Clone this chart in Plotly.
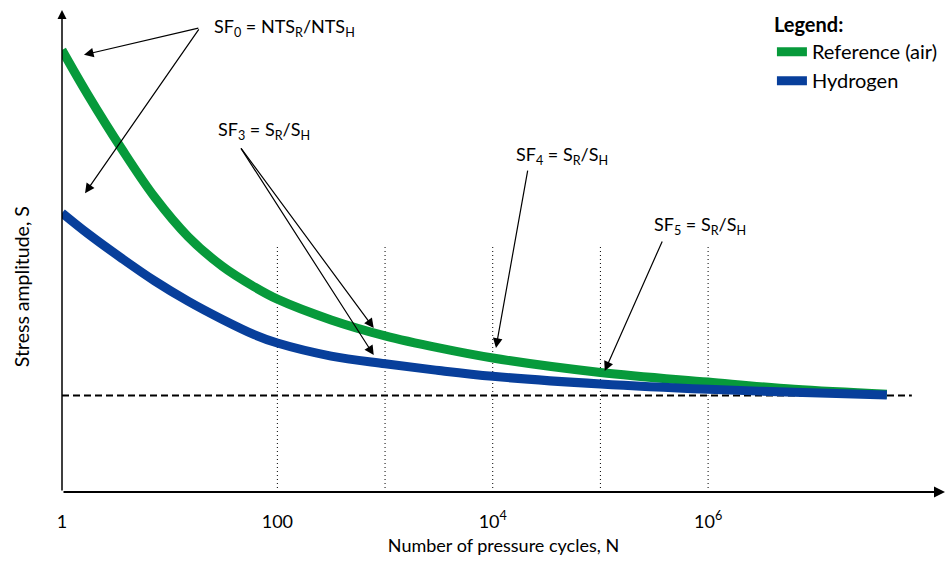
import math
import plotly.graph_objects as go

# S-N curves: number of pressure cycles vs stress amplitude (arbitrary units)
n_cycles = [1, 1.74, 3.63, 7.24, 14.8, 30.9, 61.7, 100, 316, 1000, 3162,
            1e4, 1e5, 1e6, 6.31e6, 4.57e7]
s_reference = [91.7, 82.4, 71.0, 61.2, 53.0, 46.8, 42.5, 40.0, 35.7, 32.4,
               29.9, 27.8, 24.8, 22.8, 21.3, 20.3]
s_hydrogen = [57.9, 53.6, 48.4, 43.8, 39.6, 35.8, 32.6, 30.9, 28.2, 26.6,
              25.2, 24.0, 22.4, 21.3, 20.7, 20.1]

endurance_level = 20.0
endurance_span = [1, 7.8e7]

grid_cycles = [1e2, 1e3, 1e4, 1e5, 1e6]
grid_top = 51.2

tick_values = [1, 1e2, 1e4, 1e6]
tick_labels = ["1", "100", "10<sup>4</sup>", "10<sup>6</sup>"]

GREEN = "#079a3b"
BLUE = "#083f9b"
FONT = "Lato"
TEXT_SIZE = 18

fig = go.Figure()

# dotted decade markers
for n in grid_cycles:
    fig.add_trace(go.Scatter(
        x=[n, n], y=[0, grid_top], mode="lines",
        line=dict(color="black", width=1, dash="1px,3px"),
        showlegend=False, hoverinfo="skip"))

# dashed endurance limit
fig.add_trace(go.Scatter(
    x=endurance_span, y=[endurance_level, endurance_level], mode="lines",
    line=dict(color="black", width=2, dash="7px,4px"),
    showlegend=False, hoverinfo="skip"))

fig.add_trace(go.Scatter(
    x=n_cycles, y=s_reference, mode="lines", name="Reference (air)",
    line=dict(color=GREEN, width=9, shape="spline", smoothing=1.0),
    cliponaxis=False))
fig.add_trace(go.Scatter(
    x=n_cycles, y=s_hydrogen, mode="lines", name="Hydrogen",
    line=dict(color=BLUE, width=9, shape="spline", smoothing=1.0),
    cliponaxis=False))

X_MAX_LOG = 8.2
Y_MAX = 100

annotations = []


def arrow(x_tip, y_tip, x_tail, y_tail, head=2, size=1.6, width=1.2):
    annotations.append(dict(
        x=math.log10(x_tip), y=y_tip, ax=math.log10(x_tail), ay=y_tail,
        xref="x", yref="y", axref="x", ayref="y",
        showarrow=True, arrowhead=head, arrowsize=size, arrowwidth=width,
        arrowcolor="black", standoff=0, startstandoff=0, text=""))


def label(x, y, text):
    annotations.append(dict(
        x=math.log10(x), y=y, xref="x", yref="y", text=text,
        showarrow=False, xanchor="left", yanchor="middle",
        font=dict(family=FONT, size=TEXT_SIZE, color="black")))


# axes drawn as arrows
arrow(10 ** X_MAX_LOG, 0, 1, 0, head=2, size=1.0, width=2.2)
arrow(1, Y_MAX, 1, 0, head=2, size=1.2, width=1.5)

# safety-factor callouts
sf0_tail = (10 ** 1.28, 96.3)
arrow(10 ** 0.204, 90.7, *sf0_tail)
arrow(10 ** 0.214, 62.0, *sf0_tail)
label(10 ** 1.393, 96.3, "SF<sub>0</sub> = NTS<sub>R</sub>/NTS<sub>H</sub>")

sf3_tail = (10 ** 1.653, 71.6)
arrow(10 ** 2.895, 34.0, *sf3_tail)
arrow(10 ** 2.895, 28.4, *sf3_tail)
label(10 ** 1.43, 75.1, "SF<sub>3</sub> = S<sub>R</sub>/S<sub>H</sub>")

arrow(10 ** 4.03, 29.9, 10 ** 4.327, 67.0)
label(10 ** 4.197, 69.9, "SF<sub>4</sub> = S<sub>R</sub>/S<sub>H</sub>")

arrow(10 ** 5.04, 25.1, 10 ** 5.58, 52.3)
label(10 ** 5.478, 55.2, "SF<sub>5</sub> = S<sub>R</sub>/S<sub>H</sub>")

# y-axis title
annotations.append(dict(
    x=-0.0465, y=42.7, xref="paper", yref="y", text="Stress amplitude, S",
    textangle=-90, showarrow=False, xanchor="center", yanchor="middle",
    font=dict(family=FONT, size=19.5, color="black")))

fig.update_layout(
    width=948, height=566,
    margin=dict(l=62, r=3, t=10, b=74),
    paper_bgcolor="white", plot_bgcolor="white",
    font=dict(family=FONT, size=TEXT_SIZE, color="black"),
    xaxis=dict(
        type="log", range=[0, X_MAX_LOG], showgrid=False, zeroline=False,
        showline=False, ticks="", tickvals=tick_values, ticktext=tick_labels,
        ticklabelstandoff=17, tickfont=dict(family=FONT, size=TEXT_SIZE),
        title=dict(text="Number of pressure cycles, N", standoff=8,
                   font=dict(family=FONT, size=TEXT_SIZE))),
    yaxis=dict(
        range=[0, Y_MAX], showgrid=False, zeroline=False, showline=False,
        showticklabels=False, ticks=""),
    legend=dict(
        x=0.804, y=1.008, xanchor="left", yanchor="top",
        title=dict(text="<b>Legend:</b>", font=dict(family=FONT, size=20)),
        font=dict(family=FONT, size=20), itemwidth=30,
        bgcolor="rgba(0,0,0,0)", tracegroupgap=0),
    annotations=annotations,
    showlegend=True,
)

fig.write_html("out.html")
